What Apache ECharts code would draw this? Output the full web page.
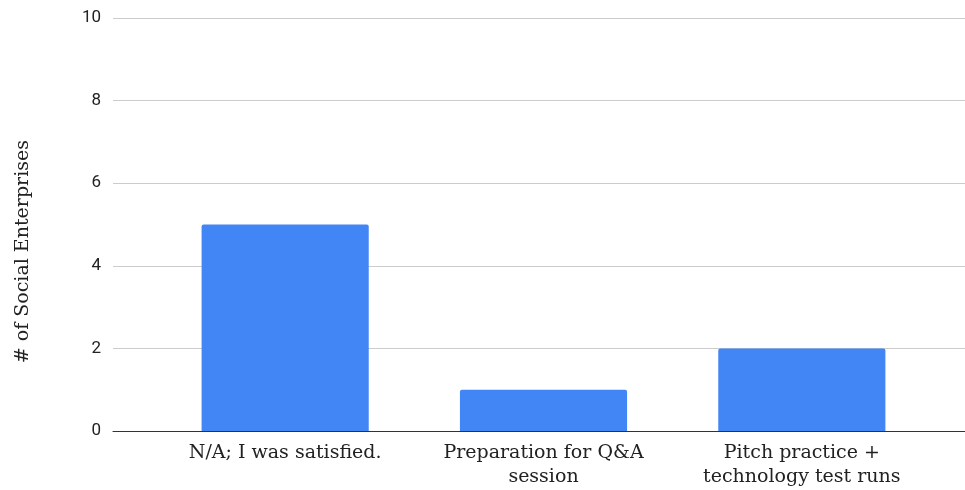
<!DOCTYPE html>
<html>
<head>
<meta charset="utf-8">
<script src="https://cdn.jsdelivr.net/npm/echarts@6/dist/echarts.min.js"></script>
<style>
  html, body { margin: 0; padding: 0; background: #fff; }
  #chart { width: 965px; height: 490px; }
</style>
</head>
<body>
<div id="chart"></div>
<script>
// Responses: what else could have helped the social enterprises
const categories = ['N/A; I was satisfied.', 'Preparation for Q&A\nsession', 'Pitch practice +\ntechnology test runs'];
const counts = [5, 1, 2];
const yTicks = { min: 0, max: 10, interval: 2 };

const chart = echarts.init(document.getElementById('chart'));
chart.setOption({
  animation: false,
  grid: [
    // full-width grid carrying the value axis, gridlines and baseline
    { left: 113, right: 0, top: 18, bottom: 59 },
    // bars sit in a slightly narrower band
    { left: 156, right: 34, top: 18, bottom: 59 }
  ],
  xAxis: [
    {
      gridIndex: 0, type: 'category', data: [''],
      axisLine: { show: true, lineStyle: { color: '#333', width: 1 } },
      axisTick: { show: false }, axisLabel: { show: false }
    },
    {
      gridIndex: 1, type: 'category', data: categories,
      axisLine: { show: false }, axisTick: { show: false },
      axisLabel: {
        interval: 0, margin: 10, color: '#222',
        fontFamily: 'DejaVu Serif', fontSize: 19, lineHeight: 24
      }
    }
  ],
  yAxis: [
    {
      gridIndex: 0, type: 'value', min: yTicks.min, max: yTicks.max, interval: yTicks.interval,
      axisLine: { show: false }, axisTick: { show: false },
      axisLabel: { margin: 12, color: '#222', fontFamily: 'Roboto', fontSize: 17 },
      splitLine: { lineStyle: { color: '#cccccc', width: 1 } }
    },
    {
      gridIndex: 1, type: 'value', min: yTicks.min, max: yTicks.max, interval: yTicks.interval,
      axisLine: { show: false }, axisTick: { show: false },
      axisLabel: { show: false }, splitLine: { show: false }
    }
  ],
  graphic: [{
    type: 'text', left: 14, top: 140, rotation: Math.PI / 2,
    originX: 0, originY: 0,
    style: {
      text: '# of Social Enterprises', fill: '#222',
      font: '19px "DejaVu Serif"',
      x: 0, y: 0
    }
  }],
  series: [{
    type: 'bar', xAxisIndex: 1, yAxisIndex: 1,
    data: counts, barWidth: '64.7%',
    itemStyle: { color: '#4285f4', borderRadius: [2, 2, 0, 0] }
  }]
});
</script>
</body>
</html>
